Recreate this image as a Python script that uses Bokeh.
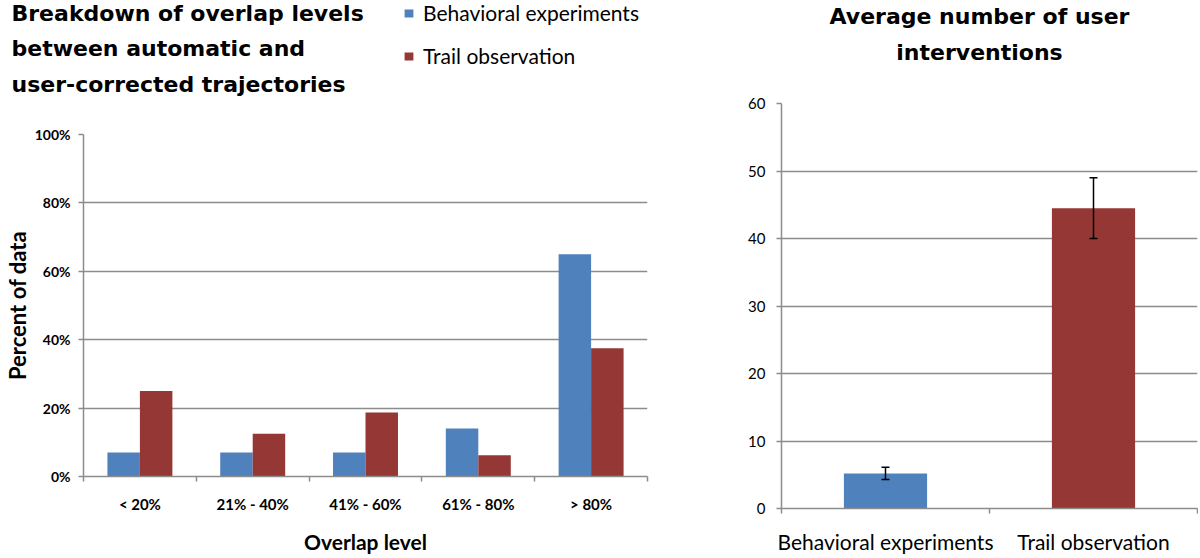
import numpy as np
from bokeh.plotting import figure
from bokeh.models import (Range1d, FixedTicker, PrintfTickFormatter, Legend, LegendItem,
                          Label, Whisker, TeeHead, ColumnDataSource)
from bokeh.layouts import row, column
from bokeh.embed import file_html
from bokeh.resources import INLINE

# ---------------- data ----------------
overlap_levels = ["< 20%", "21% - 40%", "41% - 60%", "61% - 80%", "> 80%"]
behavioral_pct = [7, 7, 7, 14, 65]
trail_pct = [25, 12.5, 18.75, 6.25, 37.5]
series_names = ["Behavioral experiments", "Trail observation"]

groups = ["Behavioral experiments", "Trail observation"]
avg_interventions = [5.2, 44.5]
err_interventions = [0.9, 4.5]

pct_ticks = [0, 20, 40, 60, 80, 100]
count_ticks = [0, 10, 20, 30, 40, 50, 60]

title_left = ["Breakdown of overlap levels", "between automatic and", "user-corrected trajectories"]
title_right = ["Average number of user", "interventions"]

# ---------------- style ----------------
BLUE = "#4F81BD"
RED = "#953735"
GRID = "#8C8C8C"
FONT = "Lato"
TITLE_FONT = "DejaVu Sans"

W1, W2, H = 708, 490, 556


def style_common(p):
    p.outline_line_color = None
    p.frame_align = False
    p.xgrid.visible = False
    p.ygrid.grid_line_color = GRID
    p.ygrid.grid_line_width = 1.5
    for ax in (p.xaxis[0], p.yaxis[0]):
        ax.axis_line_color = GRID
        ax.axis_line_width = 1.5
        ax.major_tick_line_color = GRID
        ax.major_tick_line_width = 1.5
        ax.minor_tick_line_color = GRID
        ax.minor_tick_line_width = 1.5
        ax.major_label_text_font = FONT
        ax.axis_label_text_font = FONT
        ax.major_label_text_color = "black"
        ax.axis_label_text_color = "black"
        ax.major_label_text_line_height = 1.0
        ax.axis_label_text_line_height = 1.0
    xa = p.xaxis[0]
    xa.major_tick_out = 0
    xa.major_tick_in = 0
    xa.minor_tick_out = 5
    xa.minor_tick_in = 0
    ya = p.yaxis[0]
    ya.major_tick_out = 5
    ya.major_tick_in = 0
    ya.minor_tick_out = 0
    ya.minor_tick_in = 0


def header(width, height):
    h = figure(width=width, height=height, title=None,
               x_range=Range1d(0, 1), y_range=Range1d(0, 1),
               x_axis_location=None, y_axis_location=None,
               output_backend="svg", toolbar_location=None,
               min_border=0)
    h.outline_line_color = None
    h.grid.visible = False
    h.frame_align = False
    return h


# ================= left chart =================
n = len(overlap_levels)
xc = np.arange(n) + 0.5
bw = 0.288

H1 = 118
h1 = header(W1, H1)
for i, line in enumerate(title_left):
    h1.add_layout(Label(x=11, y=H1 - 13 - 35.3 * i, x_units="screen", y_units="screen",
                        text=line, text_font=TITLE_FONT, text_font_size="22px",
                        text_font_style="bold", text_baseline="alphabetic",
                        text_align="left", text_color="black"))
# legend swatches (zero-size placeholders, only their legend glyphs show)
swatch = ColumnDataSource(dict(x=[0.0], top=[0.0]))
lb = h1.vbar(x="x", top="top", width=0, fill_color=BLUE, line_color=None, source=swatch)
lt = h1.vbar(x="x", top="top", width=0, fill_color=RED, line_color=None, source=swatch)
legend = Legend(items=[LegendItem(label=series_names[0], renderers=[lb]),
                       LegendItem(label=series_names[1], renderers=[lt])],
                location=(403, H1 - 68.5), orientation="vertical",
                padding=0, margin=0, spacing=17,
                glyph_width=11, glyph_height=10, label_height=26,
                label_standoff=9, label_text_font=FONT, label_text_font_size="21px",
                label_text_line_height=1.0, label_text_color="black",
                background_fill_alpha=0, border_line_color=None)
h1.add_layout(legend)

p1 = figure(width=W1, height=H - H1, title=None,
            x_range=Range1d(0, n), y_range=Range1d(0, 100),
            output_backend="svg", toolbar_location=None,
            min_border_left=83, min_border_right=61,
            min_border_top=16, min_border_bottom=79)

p1.vbar(x=xc - bw / 2, top=behavioral_pct, width=bw, fill_color=BLUE, line_color=None)
p1.vbar(x=xc + bw / 2, top=trail_pct, width=bw, fill_color=RED, line_color=None)

style_common(p1)
p1.xaxis.ticker = FixedTicker(ticks=list(xc), minor_ticks=list(range(n + 1)))
p1.xaxis.major_label_overrides = {float(x): lab for x, lab in zip(xc, overlap_levels)}
p1.xaxis.major_label_text_font_size = "15px"
p1.xaxis.major_label_text_font_style = "bold"
p1.xaxis.major_label_standoff = 13
p1.xaxis.axis_label = "Overlap level"
p1.xaxis.axis_label_text_font_size = "21px"
p1.xaxis.axis_label_text_font_style = "bold"
p1.xaxis.axis_label_standoff = 13

p1.yaxis.ticker = FixedTicker(ticks=pct_ticks, minor_ticks=[])
p1.yaxis.formatter = PrintfTickFormatter(format="%d%%")
p1.yaxis.major_label_text_font_size = "14px"
p1.yaxis.major_label_text_font_style = "bold"
p1.yaxis.major_label_standoff = 8
p1.yaxis.axis_label = "Percent of data"
p1.yaxis.axis_label_text_font_size = "22px"
p1.yaxis.axis_label_text_font_style = "bold"
p1.yaxis.axis_label_standoff = 1

# ================= right chart =================
m = len(groups)
gx = np.arange(m) + 0.5
src = ColumnDataSource(dict(
    x=gx, top=avg_interventions, color=[BLUE, RED],
    upper=[v + e for v, e in zip(avg_interventions, err_interventions)],
    lower=[v - e for v, e in zip(avg_interventions, err_interventions)],
))

H2 = 83
h2 = header(W2, H2)
for i, line in enumerate(title_right):
    h2.add_layout(Label(x=271, y=H2 - 15.7 - 36.6 * i, x_units="screen", y_units="screen",
                        text=line, text_font=TITLE_FONT, text_font_size="22px",
                        text_font_style="bold", text_baseline="alphabetic",
                        text_align="center", text_color="black"))

p2 = figure(width=W2, height=H - H2, title=None,
            x_range=Range1d(0, m), y_range=Range1d(0, 60),
            output_backend="svg", toolbar_location=None,
            min_border_left=73, min_border_right=1,
            min_border_top=20, min_border_bottom=48)
p2.vbar(x="x", top="top", width=0.4, fill_color="color", line_color=None, source=src)
p2.add_layout(Whisker(base="x", upper="upper", lower="lower", source=src, level="overlay",
                      line_color="black", line_width=1.5,
                      upper_head=TeeHead(size=8, line_color="black", line_width=1.5),
                      lower_head=TeeHead(size=8, line_color="black", line_width=1.5)))

style_common(p2)
p2.xaxis.ticker = FixedTicker(ticks=list(gx), minor_ticks=list(range(m + 1)))
p2.xaxis.major_label_overrides = {float(x): lab for x, lab in zip(gx, groups)}
p2.xaxis.major_label_text_font_size = "21px"
p2.xaxis.major_label_standoff = 15
p2.yaxis.ticker = FixedTicker(ticks=count_ticks, minor_ticks=[])
p2.yaxis.major_label_text_font_size = "15px"
p2.yaxis.major_label_standoff = 11

layout = row(column(h1, p1), column(h2, p2))
open("out.html", "w").write(file_html(layout, INLINE))
